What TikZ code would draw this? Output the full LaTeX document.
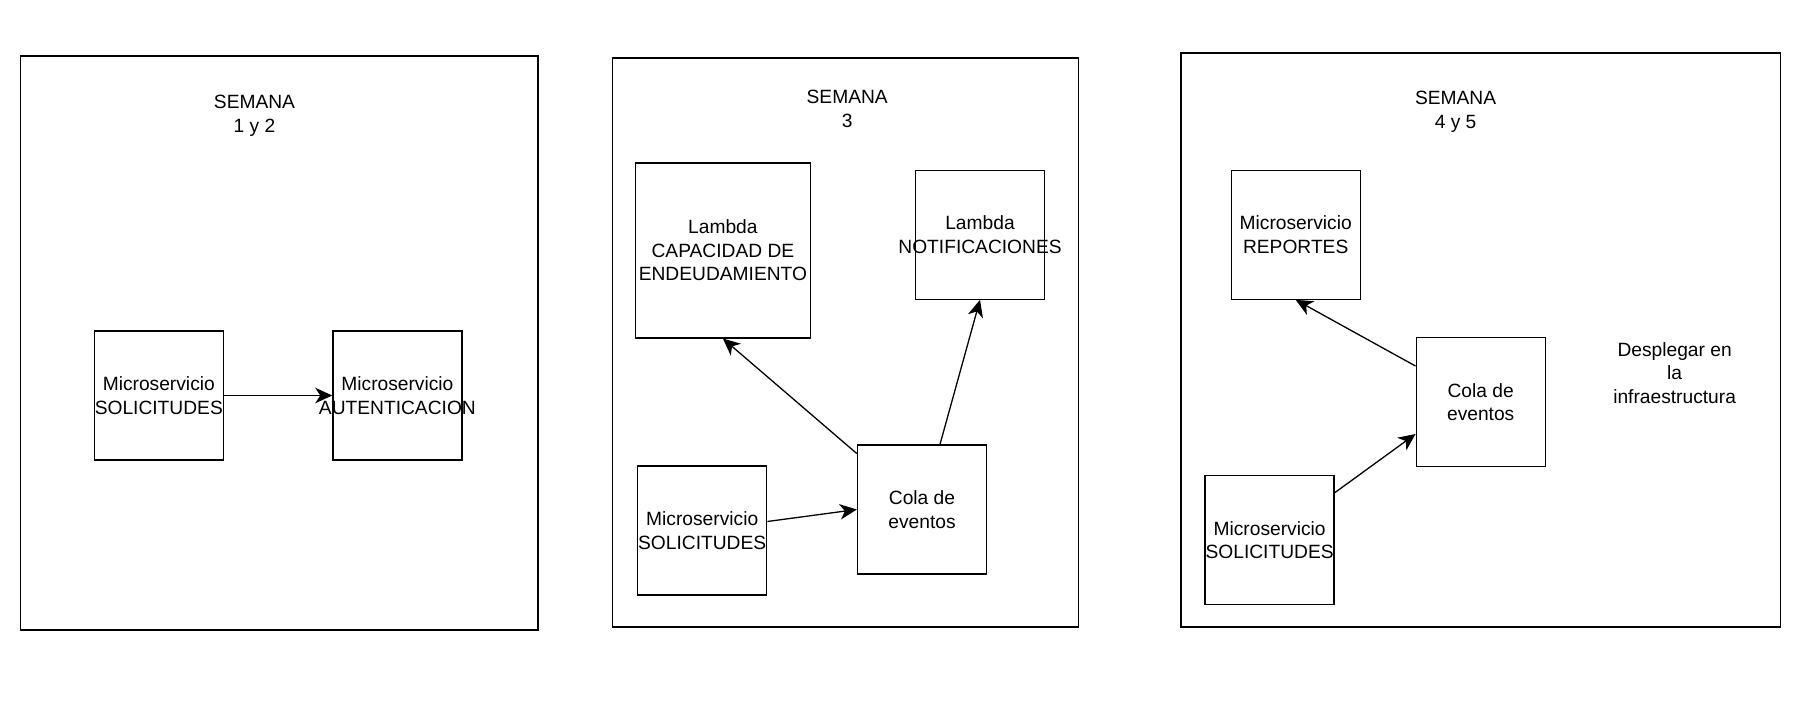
\documentclass[tikz,border=0pt]{standalone}
\usepackage{fontspec}
\setmainfont{Liberation Sans}
\usetikzlibrary{arrows.meta}
\tikzset{font=\fontsize{19.2}{23.5}\selectfont}
\tikzset{
	frame/.style={draw, line width=1.6pt, inner sep=0pt},
	box/.style={draw, line width=1.3pt, minimum width=129pt, minimum height=129pt, inner sep=0pt},
	lbl/.style={align=center, inner sep=0pt},
	arr/.style={-{Stealth[length=17pt, width=15.5pt, inset=5pt]}, line width=1.3pt}
}

\begin{document}
\begin{tikzpicture}[x=1pt, y=-1pt]
	\useasboundingbox (0,0) rectangle (1800,704);
	\begin{scope}
		% weeks
		\node[frame, minimum width=517.4pt, minimum height=574pt] (wk1) at (279, 343) {};
		\node[frame, minimum width=465.8pt, minimum height=569pt] (wk2) at (845.5, 342.4) {};
		\node[frame, minimum width=599.9pt, minimum height=574pt] (wk3) at (1480.7, 340) {};

		\node[lbl] (sem1) at (254.5, 116) {SEMANA\\1 y 2};
		\node[lbl] (sem2) at (847.2, 109) {SEMANA\\3};
		\node[lbl] (sem3) at (1455.6, 112) {SEMANA\\4 y 5};

		% semana 1 y 2
		\node[box, label={[lbl]center:Microservicio\\SOLICITUDES}] (sol1) at (158.8, 395.5) {};
		\node[box, label={[lbl]center:Microservicio\\AUTENTICACION}] (aut) at (397.4, 395.5) {};

		% semana 3
		\node[box, minimum width=175.3pt, minimum height=175pt, label={[lbl]center:Lambda\\CAPACIDAD DE\\ENDEUDAMIENTO}] (cap) at (722.9, 250.4) {};
		\node[box, label={[lbl]center:Lambda\\NOTIFICACIONES}] (notif) at (980, 234.7) {};
		\node[box, label={[lbl]center:Microservicio\\SOLICITUDES}] (sol2) at (702.2, 530.5) {};
		\node[box, label={[lbl]center:Cola de\\eventos}] (cola2) at (922, 509.5) {};

		% semana 4 y 5
		\node[box, label={[lbl]center:Microservicio\\REPORTES}] (rep) at (1295.7, 234.7) {};
		\node[box, label={[lbl]center:Cola de\\eventos}] (cola3) at (1480.7, 402) {};
		\node[box, label={[lbl]center:Microservicio\\SOLICITUDES}] (sol3) at (1269.6, 540) {};
		\node[lbl] (despl) at (1674.6, 373) {Desplegar en\\la\\infraestructura};

		\draw [arr] (sol1) to (aut);

		\draw [arr] ([yshift=9pt]sol2.east) to (cola2.west);
		\draw [arr] (cola2) to (cap.south);
		\draw [arr] (cola2) to (notif.south);

		\draw [arr] (cola3) to (rep.south);
		\draw [arr] (sol3) to ([yshift=-32pt]cola3.west);
	\end{scope}
\end{tikzpicture}
\end{document}
